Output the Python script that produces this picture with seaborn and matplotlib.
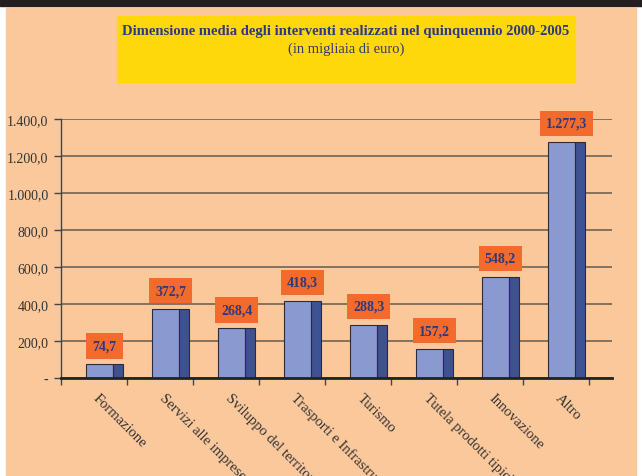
import numpy as np
import pandas as pd
import seaborn as sns
import matplotlib.pyplot as plt
from matplotlib.patches import Rectangle

# Data
categories = ["Formazione", "Servizi alle imprese", "Sviluppo del territorio",
              "Trasporti e Infrastrutture", "Turismo", "Tutela prodotti tipici",
              "Innovazione", "Altro"]
values = [74.7, 372.7, 268.4, 418.3, 288.3, 157.2, 548.2, 1277.3]
value_labels = ["74,7", "372,7", "268,4", "418,3", "288,3", "157,2", "548,2", "1.277,3"]
y_ticks = [0, 200, 400, 600, 800, 1000, 1200, 1400]
y_tick_labels = ["-", "200,0", "400,0", "600,0", "800,0", "1.000,0", "1.200,0", "1.400,0"]
title = "Dimensione media degli interventi realizzati nel quinquennio 2000-2005"
subtitle = "(in migliaia di euro)"

PEACH = "#fbc89c"
YELLOW = "#ffd80c"
LIGHT = "#8a99cf"
DARK = "#3e5190"
EDGE = "#2b2b3a"
ORANGE = "#f26a2c"
NAVY = "#2f3a7c"

sns.set_theme(style="white")
plt.rcParams['font.family'] = ['Liberation Serif', 'DejaVu Serif']

W, H = 642, 477
fig = plt.figure(figsize=(W / 100, H / 100), dpi=100, facecolor="white")

# page background, black top band and yellow title box
fig.patches.append(Rectangle((6 / W, 0), 630 / W, 468 / H, transform=fig.transFigure,
                             color=PEACH, zorder=-3))
fig.patches.append(Rectangle((0, 470 / H), 1, 7 / H, transform=fig.transFigure,
                             color="#231f20", zorder=-3))
fig.patches.append(Rectangle((117 / W, 1 - 83 / H), 458 / W, 66 / H, transform=fig.transFigure,
                             color=YELLOW, zorder=-2))
fig.text(346 / W, 1 - 31 / H, title, ha="center", va="center", fontsize=10.5,
         fontweight="bold", color=NAVY)
fig.text(346 / W, 1 - 49 / H, subtitle, ha="center", va="center", fontsize=10.5,
         color="#333a6a")

ax = fig.add_axes([61 / W, 1 - 379 / H, 551 / W, 259 / H])
ax.set_facecolor("none")

df = pd.DataFrame({"categoria": categories, "valore": values})
sns.barplot(data=df, x="categoria", y="valore", color=LIGHT, width=0.41, saturation=1,
            edgecolor=EDGE, linewidth=0.8, ax=ax, zorder=3)
# dark side face of the 3D bars
pos = np.arange(len(values))
ax.bar(pos + 0.275, values, width=0.14, color=DARK, edgecolor=EDGE, linewidth=0.8, zorder=3)

ax.set_xlim(-0.59, 7.76)
ax.set_ylim(0, 1400)
ax.set_xticks(np.arange(len(values) + 1) - 0.59)
ax.set_xticklabels([])
ax.set_yticks(y_ticks)
ax.set_yticklabels(y_tick_labels, fontsize=10, color="#333333")
ax.set_xlabel("")
ax.set_ylabel("")
ax.tick_params(axis="both", direction="out", length=5, width=1, color="#444444", pad=4)
ax.tick_params(axis="y", left=True)
ax.tick_params(axis="x", bottom=True)

ax.yaxis.grid(True, color="#7c6a58", linewidth=1.3)
ax.xaxis.grid(False)
ax.set_axisbelow(True)

for s in ["top", "right"]:
    ax.spines[s].set_visible(False)
ax.spines["left"].set_color("#444444")
ax.spines["left"].set_linewidth(1)
ax.spines["bottom"].set_color("#222222")
ax.spines["bottom"].set_linewidth(2)
ax.spines["bottom"].set_zorder(4)

# category labels, rotated
for i, cat in enumerate(categories):
    ax.annotate(cat, xy=(i, 0), xycoords=("data", "axes fraction"), xytext=(0, -9),
                textcoords="offset points", rotation=-45, rotation_mode="anchor",
                ha="left", va="top", fontsize=10.5, color="#333333", annotation_clip=False)

# value labels in orange boxes
for i, (v, lbl) in enumerate(zip(values, value_labels)):
    ax.annotate(lbl, xy=(i + 0.07, v), xytext=(0, 8.5), textcoords="offset points",
                ha="center", va="bottom", fontsize=10, fontweight="bold", color=NAVY,
                bbox=dict(boxstyle="square,pad=0.45", fc=ORANGE, ec="none"), zorder=5)

fig.savefig("out.png", dpi=100, facecolor=fig.get_facecolor())
